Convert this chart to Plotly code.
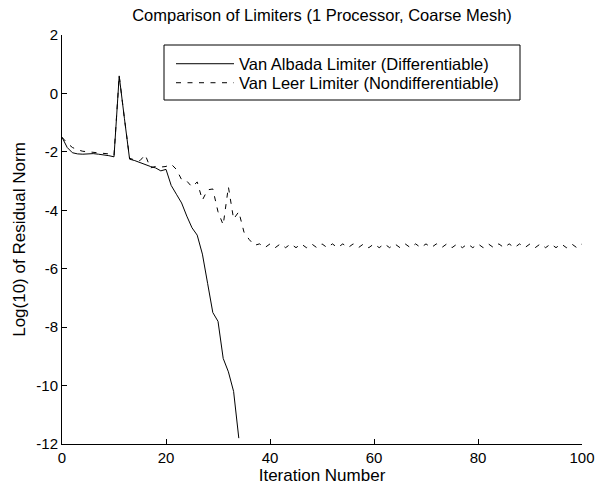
import plotly.graph_objects as go

# ---- data ----
iter_albada = list(range(0, 35))
resid_albada = [-1.5, -1.85, -2.03, -2.07, -2.08, -2.07, -2.06, -2.08, -2.1, -2.13,
                -2.17, 0.6, -0.85, -2.25, -2.3, -2.37, -2.45, -2.5, -2.55, -2.65,
                -2.6, -3.15, -3.45, -3.75, -4.2, -4.6, -4.85, -5.5, -6.5, -7.5,
                -7.8, -9.07, -9.53, -10.2, -11.8]

iter_leer = list(range(0, 101))
resid_leer = [-1.5, -1.7, -1.85, -1.93, -1.98, -2.0, -2.02, -2.02, -2.04, -2.07,
              -2.12, 0.6, -0.85, -2.22, -2.28, -2.3, -2.1, -2.55, -2.5, -2.52,
              -2.5, -2.42, -2.6, -2.95, -3.0, -3.2, -3.03, -3.65, -3.3, -3.27,
              -4.05, -4.5, -3.2, -4.3, -4.05, -4.75, -5.0, -5.2, -5.15, -5.28,
              -5.15, -5.28, -5.15, -5.28, -5.15, -5.28, -5.15, -5.28, -5.15, -5.28,
              -5.15, -5.28, -5.15, -5.28, -5.15, -5.28, -5.15, -5.28, -5.15, -5.28,
              -5.15, -5.28, -5.15, -5.28, -5.15, -5.28, -5.15, -5.28, -5.15, -5.28,
              -5.15, -5.28, -5.15, -5.28, -5.15, -5.28, -5.15, -5.28, -5.15, -5.28,
              -5.15, -5.28, -5.15, -5.28, -5.15, -5.28, -5.15, -5.28, -5.15, -5.28,
              -5.15, -5.28, -5.15, -5.28, -5.15, -5.28, -5.15, -5.28, -5.15, -5.28,
              -5.15]

series_names = ["Van Albada Limiter (Differentiable)", "Van Leer Limiter (Nondifferentiable)"]
x_ticks = [0, 20, 40, 60, 80, 100]
x_tick_labels = ["0", "20", "40", "60", "80", "100"]
y_ticks = [-12, -10, -8, -6, -4, -2, 0, 2]
y_tick_labels = ["-12", "-10", "-8", "-6", "-4", "-2", "0", "2"]

FONT = "Liberation Sans, Arial, Helvetica, sans-serif"

fig = go.Figure()
fig.add_trace(go.Scatter(x=iter_albada, y=resid_albada, mode="lines", name=series_names[0],
                         line=dict(color="black", width=1), legend="legend"))
fig.add_trace(go.Scatter(x=iter_leer, y=resid_leer, mode="lines", name=series_names[1],
                         line=dict(color="black", width=1, dash="5px,6.5px"), legend="legend2"))

W, H = 598, 485
L, R, T, B = 62, 16, 35, 41
pw, ph = W - L - R, H - T - B

def px_x(px):
    return (px - L) / pw

def px_y(py):
    return (H - B - py) / ph

leg_common = dict(xanchor="left", yanchor="middle", bgcolor="rgba(0,0,0,0)", borderwidth=0,
                  font=dict(size=16.5), itemwidth=58)

fig.update_layout(
    width=W, height=H,
    margin=dict(l=L, r=R, t=T, b=B, autoexpand=False),
    paper_bgcolor="white", plot_bgcolor="white",
    font=dict(family=FONT, size=15, color="black"),
    title=dict(text="Comparison of Limiters (1 Processor, Coarse Mesh)",
               x=0.5, xref="paper", xanchor="center",
               y=1 - 15 / H, yref="container", yanchor="middle",
               font=dict(size=16.5)),
    showlegend=True,
    legend=dict(x=px_x(171), y=px_y(64), **leg_common),
    legend2=dict(x=px_x(171), y=px_y(83), **leg_common),
    shapes=[dict(type="rect", xref="paper", yref="paper",
                 x0=px_x(164), x1=px_x(520), y0=px_y(100), y1=px_y(45),
                 line=dict(color="black", width=1), fillcolor="white", layer="below")],
    xaxis=dict(range=[0, 100], tickvals=x_ticks, ticktext=x_tick_labels,
               showline=True, linecolor="black", linewidth=1, mirror=False,
               ticks="inside", ticklen=5, tickcolor="black", tickwidth=1,
               showgrid=False, zeroline=False,
               title=dict(text="Iteration Number", font=dict(size=17), standoff=2)),
    yaxis=dict(range=[-12, 2], tickvals=y_ticks, ticktext=y_tick_labels,
               showline=True, linecolor="black", linewidth=1, mirror=False,
               ticks="inside", ticklen=5, tickcolor="black", tickwidth=1,
               showgrid=False, zeroline=False,
               title=dict(text="Log(10) of Residual Norm", font=dict(size=17), standoff=6)),
)

fig.write_html("out.html", post_script="document.body.style.margin='0';",
               config={"displayModeBar": False})
